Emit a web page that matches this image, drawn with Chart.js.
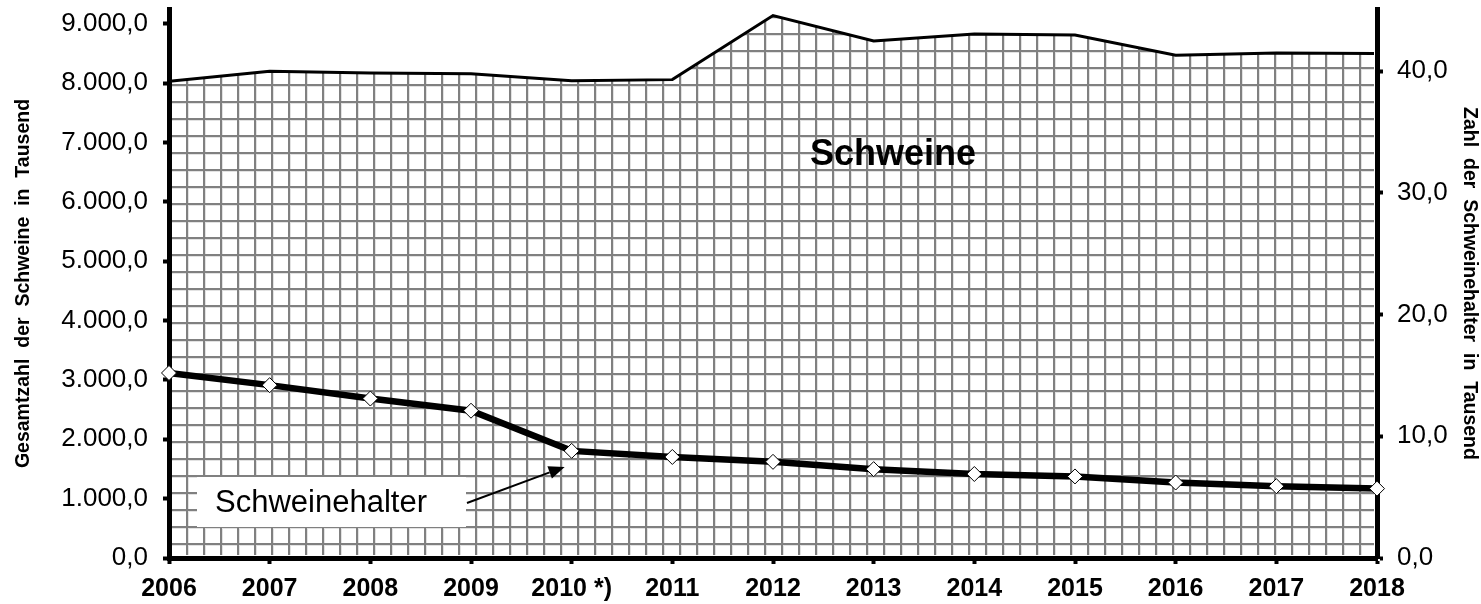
<!DOCTYPE html>
<html>
<head>
<meta charset="utf-8">
<script src="https://cdn.jsdelivr.net/npm/chart.js@4.4.1/dist/chart.umd.min.js"></script>
<style>
  html, body { margin: 0; padding: 0; background: #fff; overflow: hidden; }
  canvas { display: block; }
</style>
</head>
<body>
<canvas id="schweineChart" width="1481" height="604"></canvas>
<script>
const years = ['2006', '2007', '2008', '2009', '2010 *)', '2011', '2012', '2013', '2014', '2015', '2016', '2017', '2018'];
// Gesamtzahl der Schweine (Tausend), linke Achse
const schweine = [8030, 8200, 8170, 8160, 8040, 8060, 9140, 8710, 8830, 8810, 8470, 8510, 8500];
// Zahl der Schweinehalter (Tausend), rechte Achse
const schweinehalter = [15.2, 14.2, 13.1, 12.1, 8.8, 8.3, 7.9, 7.3, 6.9, 6.7, 6.2, 5.9, 5.7];
const leftTicks = [0, 1000, 2000, 3000, 4000, 5000, 6000, 7000, 8000, 9000];
const rightTicks = [0, 10, 20, 30, 40];

const FONT = '"Liberation Sans", Arial, Helvetica, sans-serif';

// 9000 -> "9.000,0"
function deNumber(v) {
    const parts = Number(v).toFixed(1).split('.');
    return parts[0].replace(/\B(?=(\d{3})+(?!\d))/g, '.') + ',' + parts[1];
}

var ctx = document.getElementById('schweineChart').getContext('2d');

// Karo-Muster fuer die Flaeche
function gridPattern() {
    const c = document.createElement('canvas');
    c.width = 17;
    c.height = 17;
    const p = c.getContext('2d');
    p.fillStyle = '#fff';
    p.fillRect(0, 0, 17, 17);
    p.fillStyle = '#e2e2e2';
    p.fillRect(1, 0, 1, 17);
    p.fillRect(0, 1, 17, 1);
    p.fillStyle = '#808080';
    p.fillRect(16, 0, 1, 17);
    p.fillRect(0, 0, 1, 17);
    p.fillRect(0, 16, 17, 1);
    p.fillRect(0, 0, 17, 1);
    return ctx.createPattern(c, 'repeat');
}

// Beschriftungen "Schweine", "Schweinehalter" mit Pfeil
const labelsPlugin = {
    id: 'labelsPlugin',
    afterDatasetsDraw(chart) {
        const c = chart.ctx;
        const a = chart.chartArea;
        const pt = chart.getDatasetMeta(1).data[4];
        c.save();
        c.fillStyle = '#000';
        c.textAlign = 'center';
        c.textBaseline = 'middle';
        c.font = 'bold 36px ' + FONT;
        c.fillText('Schweine', a.left + 724, a.top + 146);

        const bx = a.left + 28, by = a.bottom - 81, bw = 269, bh = 50;
        c.fillStyle = '#fff';
        c.fillRect(bx, by, bw, bh);
        c.fillStyle = '#000';
        c.textAlign = 'left';
        c.font = '31px ' + FONT;
        c.fillText('Schweinehalter', bx + 18, by + bh / 2 + 1);

        const sx = bx + bw + 1, sy = by + 26;
        const tx = pt.x - 7, ty = pt.y + 16;
        const ang = Math.atan2(ty - sy, tx - sx);
        const cos = Math.cos(ang), sin = Math.sin(ang);
        const hl = 16, hw = 6.5;
        c.strokeStyle = '#000';
        c.lineWidth = 2;
        c.beginPath();
        c.moveTo(sx, sy);
        c.lineTo(tx - hl * cos, ty - hl * sin);
        c.stroke();
        c.beginPath();
        c.moveTo(tx, ty);
        c.lineTo(tx - hl * cos + hw * sin, ty - hl * sin - hw * cos);
        c.lineTo(tx - hl * cos - hw * sin, ty - hl * sin + hw * cos);
        c.closePath();
        c.fill();
        c.restore();
    }
};

var schweineChart = new Chart(ctx, {
    type: 'line',
    data: {
        labels: years,
        datasets: [
            {
                label: 'Schweine',
                data: schweine,
                yAxisID: 'y',
                borderColor: '#000',
                borderWidth: 3,
                backgroundColor: gridPattern(),
                fill: 'origin',
                pointRadius: 0,
                tension: 0,
                // keep the fill off the thick axis lines
                clip: { left: -3, right: -3, top: 10, bottom: -3 },
                order: 2
            },
            {
                label: 'Schweinehalter',
                data: schweinehalter,
                yAxisID: 'y1',
                borderColor: '#000',
                borderWidth: 6.5,
                fill: false,
                pointStyle: 'rectRot',
                pointRadius: 7.5,
                pointBackgroundColor: '#fff',
                pointBorderColor: '#000',
                pointBorderWidth: 1,
                tension: 0,
                clip: false,
                order: 1
            }
        ]
    },
    options: {
        responsive: false,
        animation: false,
        layout: { padding: { top: 9 } },
        plugins: {
            legend: { display: false },
            tooltip: { enabled: false }
        },
        scales: {
            x: {
                offset: false,
                grid: { display: true, drawOnChartArea: false, drawTicks: true, tickLength: 6, tickWidth: 4, tickColor: '#000' },
                border: { display: true, color: '#000', width: 5 },
                ticks: { color: '#000', font: { family: FONT, size: 25, weight: 'bold' }, padding: 10, maxRotation: 0, autoSkip: false },
                afterFit(s) { s.height = 46; s.paddingLeft = 0; s.paddingRight = 0; }
            },
            y: {
                position: 'left',
                min: 0,
                max: 9250,
                afterBuildTicks(s) { s.ticks = leftTicks.map(v => ({ value: v })); },
                grid: { display: true, drawOnChartArea: false, drawTicks: true, tickLength: 6, tickWidth: 4, tickColor: '#000' },
                border: { display: true, color: '#000', width: 5 },
                ticks: { color: '#000', font: { family: FONT, size: 26 }, padding: 15, callback: v => deNumber(v) },
                title: {
                    display: true,
                    text: 'Gesamtzahl  der  Schweine  in  Tausend',
                    color: '#000',
                    font: { family: FONT, size: 19.5, weight: 'bold' },
                    padding: { top: 12, bottom: 0 }
                },
                afterFit(s) { s.width = 169; s.paddingTop = 0; s.paddingBottom = 0; }
            },
            y1: {
                position: 'right',
                min: 0,
                max: 45.1,
                afterBuildTicks(s) { s.ticks = rightTicks.map(v => ({ value: v })); },
                grid: { display: true, drawOnChartArea: false, drawTicks: true, tickLength: 6, tickWidth: 4, tickColor: '#000' },
                border: { display: true, color: '#000', width: 5 },
                ticks: { color: '#000', font: { family: FONT, size: 26 }, padding: 14, callback: v => deNumber(v) },
                title: {
                    display: true,
                    text: 'Zahl  der  Schweinehalter  in  Tausend',
                    color: '#000',
                    font: { family: FONT, size: 19.5, weight: 'bold' },
                    padding: { top: 0, bottom: 0 }
                },
                afterFit(s) { s.width = 104; s.paddingTop = 0; s.paddingBottom = 0; }
            }
        }
    },
    plugins: [labelsPlugin]
});
</script>
</body>
</html>
